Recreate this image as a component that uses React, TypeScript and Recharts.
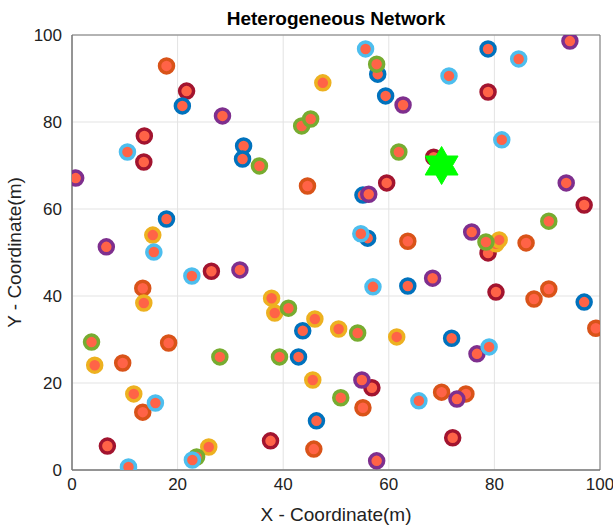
import {
  ScatterChart,
  Scatter,
  XAxis,
  YAxis,
  CartesianGrid,
  ReferenceArea,
  Label,
} from "recharts";

// node positions (m), grouped by ring colour
const darkRedNodes = [
  [13.7, 76.8], [13.6, 70.8], [21.7, 87.1], [78.8, 86.9], [68.5, 71.9],
  [59.6, 66.0], [97.0, 60.9], [26.4, 45.7], [78.8, 49.9], [80.3, 40.9],
  [6.7, 5.5], [37.6, 6.7], [56.8, 18.9], [72.1, 7.4],
];
const blueNodes = [
  [20.9, 83.7], [32.5, 74.5], [32.3, 71.5], [57.9, 91.0], [59.4, 86.0],
  [78.8, 96.8], [55.1, 63.2], [17.9, 57.7], [56.0, 53.3], [63.6, 42.3],
  [97.0, 38.6], [43.7, 32.0], [42.9, 26.0], [71.9, 30.3], [46.3, 11.3],
];
const orangeNodes = [
  [17.9, 92.9], [44.6, 65.3], [63.6, 52.6], [86.0, 52.2], [87.5, 39.3],
  [90.3, 41.6], [99.2, 32.6], [13.4, 41.8], [9.6, 24.6], [18.3, 29.2],
  [13.4, 13.3], [45.8, 4.8], [55.1, 14.3], [70.0, 17.9], [74.6, 17.5],
];
const yellowNodes = [
  [47.5, 89.0], [15.3, 54.0], [80.3, 52.0], [80.9, 52.9], [13.6, 38.4],
  [4.3, 24.1], [37.8, 39.5], [38.4, 36.1], [46.0, 34.7], [50.5, 32.4],
  [61.5, 30.6], [45.6, 20.7], [11.7, 17.5], [25.9, 5.3],
];
const purpleNodes = [
  [0.7, 67.1], [28.5, 81.4], [62.7, 83.9], [94.3, 98.6], [56.2, 63.4],
  [93.6, 66.0], [6.5, 51.3], [31.8, 46.0], [75.7, 54.7], [68.3, 44.1],
  [76.7, 26.7], [54.9, 20.7], [57.7, 2.1], [72.9, 16.3],
];
const greenNodes = [
  [35.5, 69.9], [43.5, 79.1], [45.2, 80.7], [57.7, 93.3], [61.9, 73.1],
  [90.3, 57.2], [78.4, 52.4], [3.7, 29.4], [28.0, 26.0], [41.0, 37.2],
  [39.3, 26.0], [54.1, 31.5], [23.6, 3.0], [50.9, 16.6],
];
const lightBlueNodes = [
  [10.5, 73.1], [55.6, 96.8], [71.4, 90.6], [84.6, 94.5], [81.4, 75.9],
  [15.5, 50.1], [22.7, 44.6], [54.7, 54.3], [57.0, 42.1], [79.0, 28.3],
  [15.8, 15.4], [10.7, 0.7], [22.8, 2.3], [65.7, 15.9],
];
const baseStation = [[70, 70]];

const axisTicks = [0, 20, 40, 60, 80, 100];

const groups = [
  { name: "darkred", color: "#A2142F", nodes: darkRedNodes },
  { name: "blue", color: "#0072BD", nodes: blueNodes },
  { name: "orange", color: "#D95319", nodes: orangeNodes },
  { name: "yellow", color: "#EDB120", nodes: yellowNodes },
  { name: "purple", color: "#7E2F8E", nodes: purpleNodes },
  { name: "green", color: "#77AC30", nodes: greenNodes },
  { name: "lightblue", color: "#4DBEEE", nodes: lightBlueNodes },
];

const toPoints = (arr: number[][]) => arr.map(([x, y]) => ({ x, y }));

const font = "'Liberation Sans', Arial, sans-serif";

function ringShape(color: string) {
  return (props: any) => (
    <circle
      cx={props.cx}
      cy={props.cy}
      r={7}
      fill="#FF6347"
      stroke={color}
      strokeWidth={3.5}
    />
  );
}

function hexagram(props: any) {
  const { cx, cy } = props;
  const R = 19;
  const r = R / Math.sqrt(3);
  const pts: string[] = [];
  for (let i = 0; i < 12; i++) {
    const rad = i % 2 === 0 ? R : r;
    const a = (-90 + i * 30) * (Math.PI / 180);
    pts.push(`${cx + rad * Math.cos(a)},${cy + rad * Math.sin(a)}`);
  }
  return <polygon points={pts.join(" ")} fill="#00FF00" stroke="#00FF00" />;
}

export default function App() {
  return (
    <div style={{ position: "absolute", left: 0, top: 0, width: 613, height: 527, background: "#fff" }}>
      <div
        style={{
          position: "absolute",
          left: 72,
          width: 528,
          top: 8,
          textAlign: "center",
          fontFamily: font,
          fontWeight: "bold",
          fontSize: 19,
          color: "#000",
        }}
      >
        Heterogeneous Network
      </div>
      <ScatterChart
        width={613}
        height={527}
        margin={{ top: 35, right: 13, bottom: 0, left: 0 }}
      >
        <CartesianGrid stroke="#e3e3e3" />
        <XAxis
          type="number"
          dataKey="x"
          domain={[0, 100]}
          ticks={axisTicks}
          height={57}
          stroke="#777"
          tickLine={false}
          tickMargin={2}
          tick={{ fill: "#222", fontSize: 17, fontFamily: font }}
          allowDataOverflow
        >
          <Label
            value="X - Coordinate(m)"
            position="center"
            dy={16}
            style={{ fill: "#222", fontSize: 19, fontFamily: font }}
          />
        </XAxis>
        <YAxis
          type="number"
          dataKey="y"
          domain={[0, 100]}
          ticks={axisTicks}
          width={72}
          stroke="#777"
          tickLine={false}
          tickMargin={4}
          tick={{ fill: "#222", fontSize: 17, fontFamily: font }}
          allowDataOverflow
        >
          <Label
            value="Y - Coordinate(m)"
            position="center"
            angle={-90}
            dx={-22}
            style={{ fill: "#222", fontSize: 19, fontFamily: font, textAnchor: "middle" }}
          />
        </YAxis>
        <ReferenceArea x1={0} x2={100} y1={0} y2={100} fill="none" stroke="#777" strokeOpacity={1} />
        {groups.map((g) => (
          <Scatter
            key={g.name}
            name={g.name}
            data={toPoints(g.nodes)}
            shape={ringShape(g.color)}
            isAnimationActive={false}
          />
        ))}
        <Scatter
          name="base station"
          data={toPoints(baseStation)}
          shape={hexagram}
          isAnimationActive={false}
        />
      </ScatterChart>
    </div>
  );
}
